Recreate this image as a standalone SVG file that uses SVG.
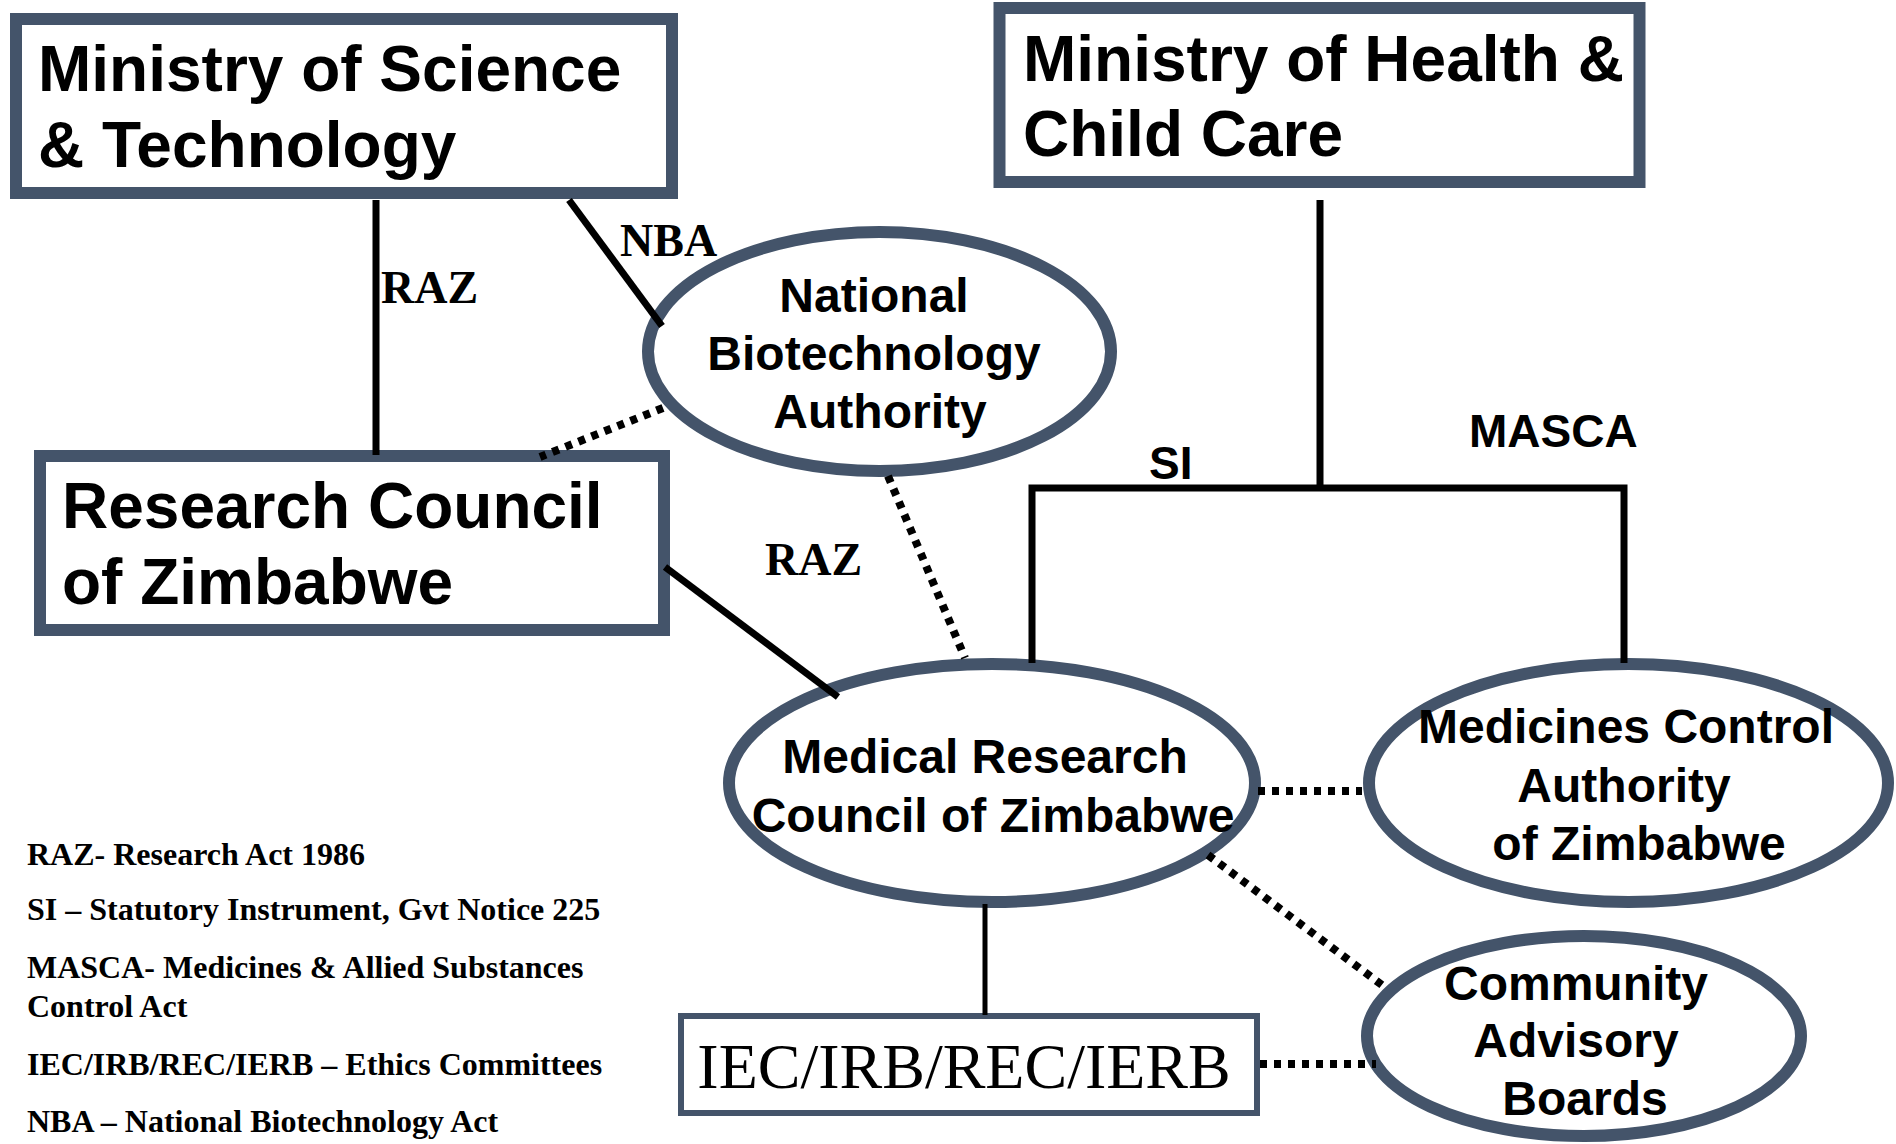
<svg xmlns="http://www.w3.org/2000/svg" width="1896" height="1144" viewBox="0 0 1896 1144">
<style>
.box{fill:#fff;stroke:#44546A;stroke-width:12}
.thin{fill:#fff;stroke:#44546A;stroke-width:6}
.ell{fill:#fff;stroke:#44546A;stroke-width:12}
.sans{font-family:"Liberation Sans",Arial,sans-serif;font-weight:bold;fill:#000}
.big{font-size:64px}
.mid{font-size:48px}
.ser{font-family:"Liberation Serif","Times New Roman",serif;fill:#000}
.lbl{font-size:46px;font-weight:bold}
.leg{font-size:32px;font-weight:bold}
.solid{stroke:#000;stroke-width:7;fill:none}
.dot{stroke:#000;stroke-width:8;fill:none;stroke-dasharray:7 7}
</style>
<rect width="1896" height="1144" fill="#fff"/>
<g id="ministry-science">
<rect class="box" x="16" y="19" width="656" height="174"/>
<text class="sans big" x="38" y="91">Ministry of Science</text>
<text class="sans big" x="38" y="167">&amp; Technology</text>
</g>
<g id="ministry-health">
<rect class="box" x="999.5" y="8" width="640" height="174"/>
<text class="sans big" x="1023" y="81">Ministry of Health &amp;</text>
<text class="sans big" x="1023" y="156">Child Care</text>
</g>
<g id="research-council">
<rect class="box" x="40" y="456" width="624" height="174"/>
<text class="sans big" x="62" y="528">Research Council</text>
<text class="sans big" x="62" y="604">of Zimbabwe</text>
</g>
<g id="nba">
<ellipse class="ell" cx="879.5" cy="351.5" rx="231.5" ry="119.5"/>
<text class="sans mid" text-anchor="middle" x="874" y="312">National</text>
<text class="sans mid" text-anchor="middle" x="874" y="370">Biotechnology</text>
<text class="sans mid" text-anchor="middle" x="880" y="428">Authority</text>
</g>
<g id="mrcz">
<ellipse class="ell" cx="992" cy="783" rx="263" ry="119"/>
<text class="sans mid" text-anchor="middle" x="985" y="773">Medical Research</text>
<text class="sans mid" text-anchor="middle" x="993" y="832">Council of Zimbabwe</text>
</g>
<g id="mcaz">
<ellipse class="ell" cx="1628.5" cy="783" rx="259.5" ry="119"/>
<text class="sans mid" text-anchor="middle" x="1626" y="743">Medicines Control</text>
<text class="sans mid" text-anchor="middle" x="1624" y="802">Authority</text>
<text class="sans mid" text-anchor="middle" x="1639" y="860">of Zimbabwe</text>
</g>
<g id="cab">
<ellipse class="ell" cx="1584" cy="1036" rx="217" ry="100"/>
<text class="sans mid" text-anchor="middle" x="1576" y="1000">Community</text>
<text class="sans mid" text-anchor="middle" x="1576" y="1057">Advisory</text>
<text class="sans mid" text-anchor="middle" x="1585" y="1115">Boards</text>
</g>
<g id="iec">
<rect class="thin" x="681" y="1016" width="576" height="97"/>
<text class="ser" font-size="64" text-anchor="middle" x="964" y="1088">IEC/IRB/REC/IERB</text>
</g>
<g id="connectors">
<line class="solid" x1="376" y1="200" x2="376" y2="455"/>
<line class="solid" x1="569" y1="200" x2="662" y2="326"/>
<line class="dot" x1="663" y1="408" x2="540" y2="457"/>
<line class="dot" x1="888" y1="476" x2="965" y2="658"/>
<line class="solid" x1="665" y1="567" x2="838" y2="697"/>
<path class="solid" d="M1320,200 V488 M1032,663 V488 H1624 V663"/>
<line class="dot" x1="1258" y1="791" x2="1362" y2="791"/>
<line class="dot" x1="1208" y1="855" x2="1382" y2="985"/>
<line class="solid" style="stroke-width:5" x1="985" y1="904" x2="985" y2="1015"/>
<line class="dot" x1="1260" y1="1064" x2="1376" y2="1064"/>
</g>
<g id="connector-labels">
<text class="ser lbl" x="381" y="303">RAZ</text>
<text class="ser lbl" x="620" y="256">NBA</text>
<text class="ser lbl" x="765" y="575">RAZ</text>
<text class="sans" font-size="46" x="1149" y="479">SI</text>
<text class="sans" font-size="46" x="1469" y="447">MASCA</text>
</g>
<g id="legend">
<text class="ser leg" x="27" y="865">RAZ- Research Act 1986</text>
<text class="ser leg" x="27" y="920">SI – Statutory Instrument, Gvt Notice 225</text>
<text class="ser leg" x="27" y="978">MASCA- Medicines &amp; Allied Substances</text>
<text class="ser leg" x="27" y="1017">Control Act</text>
<text class="ser leg" x="27" y="1075">IEC/IRB/REC/IERB – Ethics Committees</text>
<text class="ser leg" x="27" y="1132">NBA – National Biotechnology Act</text>
</g>
</svg>
